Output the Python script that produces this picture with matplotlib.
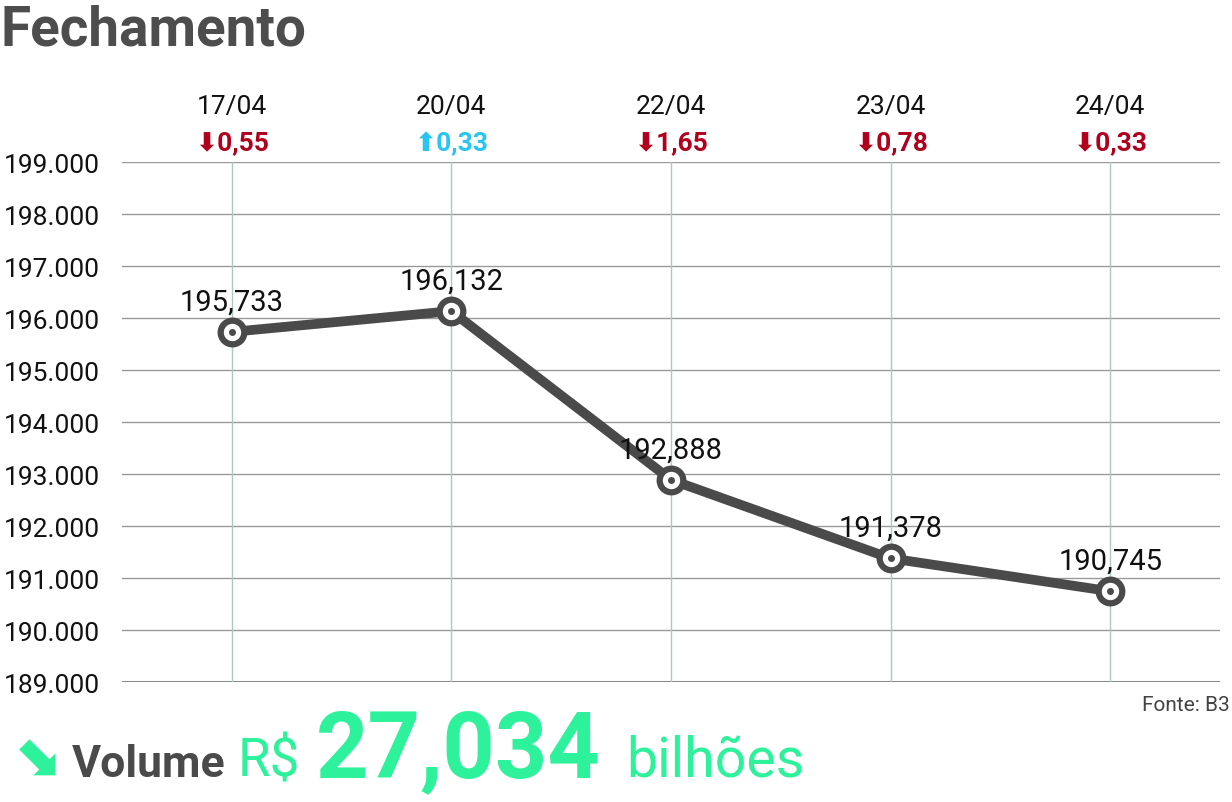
import matplotlib.pyplot as plt

dates = ["17/04", "20/04", "22/04", "23/04", "24/04"]
closes = [195733, 196132, 192888, 191378, 190745]
changes = ["0,55", "0,33", "1,65", "0,78", "0,33"]
directions = ["down", "up", "down", "down", "down"]
yticks = list(range(189000, 200000, 1000))
volume = "27,034"

W, H = 1232, 803
DARK = "#4a4a4a"
RED = "#b0001e"
CYAN = "#29c5f2"
GREEN = "#2df29b"

plt.rcParams["font.family"] = ["Roboto", "DejaVu Sans"]

fig = plt.figure(figsize=(W / 100, H / 100), dpi=100)
ax = fig.add_axes([122 / W, 1 - 683 / H, (1220 - 122) / W, (683 - 163) / H])

xs = list(range(len(dates)))
ax.set_xlim(-0.5, len(dates) - 0.5)
ax.set_ylim(yticks[0], yticks[-1])

# grid
for v in yticks[1:]:
    ax.axhline(v, color="#9a9a9a", lw=1, zorder=1)
ax.axhline(yticks[0], color="#8a8a8a", lw=2.2, zorder=1)
for x in xs:
    ax.axvline(x, color="#a9c9c1", lw=1, zorder=1)

for s in ax.spines.values():
    s.set_visible(False)
ax.set_xticks([])
ax.set_yticks(yticks)
ax.set_yticklabels([f"{v:,}".replace(",", ".") for v in yticks], fontsize=19, color="#111111")
ax.tick_params(axis="y", length=0, pad=16)

ax.plot(xs, closes, color=DARK, lw=7, zorder=3, solid_capstyle="round")
ax.plot(xs, closes, "o", ms=17, mfc="white", mec=DARK, mew=4.5, zorder=4)
ax.plot(xs, closes, "o", ms=4, color=DARK, zorder=5)

for x, v in zip(xs, closes):
    ax.annotate(f"{v / 1000:.3f}".replace(".", ","), (x, v), xytext=(0, 12),
                textcoords="offset points", ha="center", va="bottom",
                fontsize=21, color="#111111", zorder=6)

top = yticks[-1]
for x, d, c, dr in zip(xs, dates, changes, directions):
    ax.annotate(d, (x, top), xytext=(0, 40), textcoords="offset points",
                ha="center", va="center", fontsize=19, color="#111111",
                annotation_clip=False)
    col = CYAN if dr == "up" else RED
    arrow = "\u2b06" if dr == "up" else "\u2b07"
    ax.annotate(arrow + c, (x, top), xytext=(0, 14), textcoords="offset points",
                ha="center", va="center", fontsize=19, color=col,
                fontweight="bold", annotation_clip=False)

fig.text(1 / W, 1 - 30 / H, "Fechamento", fontsize=39.5, fontweight="bold",
         color="#4d4d4d", va="center", ha="left")
fig.text(1230 / W, 1 - 706 / H, "Fonte: B3", fontsize=15, color="#444444",
         ha="right", va="center")

base = 1 - 777 / H
fig.text(12 / W, base + 2 / H, "\u2b0a", fontsize=42, fontweight="bold", color=GREEN,
         ha="left", va="baseline")
fig.text(72 / W, base, "Volume", fontsize=32, fontweight="bold", color=DARK,
         ha="left", va="baseline")
fig.text(238 / W, base, "R$", fontsize=38, color=GREEN, ha="left", va="baseline")
fig.text(316 / W, base, volume, fontsize=66, fontweight="bold", color=GREEN,
         ha="left", va="baseline")
fig.text(626 / W, base, "bilhões", fontsize=40, color=GREEN, ha="left", va="baseline")

fig.savefig("out.png", dpi=100, facecolor="white")
